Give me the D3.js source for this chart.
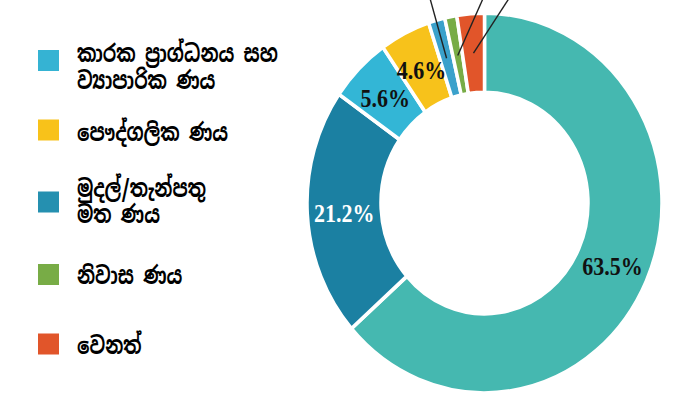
<!DOCTYPE html>
<html>
<head>
<meta charset="utf-8">
<script src="https://cdn.jsdelivr.net/npm/d3@7"></script>
<style>
  html, body { margin: 0; padding: 0; background: #fff; }
  svg { display: block; }
</style>
</head>
<body>
<svg id="chart" width="700" height="400"></svg>
<script>
// ---- data ----
const values      = [63.5, 21.2, 5.6, 4.6, 1.5, 1.1, 2.5];
const sliceLabels = ["63.5%", "21.2%", "5.6%", "4.6%", "", "", ""];
const sliceColors = ["#45b8b0", "#1b80a2", "#33b6d6", "#f7c21b", "#3aa1cb", "#78ac46", "#e1552a"];
const labelColors = ["#111", "#fff", "#111", "#111", "#111", "#111", "#111"];
const leaderSlices = [4, 5, 6];

const legendLabels = [
  ["කාරක ප්‍රාග්ධනය සහ", "ව්‍යාපාරික ණය"],
  ["පෞද්ගලික ණය"],
  ["මුදල්/තැන්පතු", "මත ණය"],
  ["නිවාස ණය"],
  ["වෙනත්"]
];
const legendColors = ["#35b3d3", "#f8c21a", "#2590b0", "#78ac46", "#e1552a"];

// ---- layout ----
const cx = 484.5, cy = 203, sy = 1.07;
const rOuter = 177.5, rInner = 103.5;
const leaderEnds = [[-56, -210], [1, -210], [28, -210]];
const legendSquareY = [60.5, 130, 202, 274.5, 344];
const legendTextY = [[53, 80], [132], [188, 214], [275], [345]];
const legendTargetWidth = 201; // width of first legend line in the reference

const svg = d3.select("#chart");

const pie = d3.pie().sort(null).value(d => d);
const arcs = pie(values);
const arc = d3.arc().innerRadius(rInner).outerRadius(rOuter);

const g = svg.append("g").attr("transform", `translate(${cx},${cy})`);
const ring = g.append("g").attr("transform", `scale(1,${sy})`);

ring.selectAll("path")
  .data(arcs)
  .join("path")
  .attr("d", arc)
  .attr("fill", (d, i) => sliceColors[i])
  .attr("stroke", "#fff")
  .attr("stroke-width", 3.5)
  .attr("stroke-linejoin", "miter");

// leader lines
g.selectAll("line.leader")
  .data(leaderSlices)
  .join("line")
  .attr("class", "leader")
  .attr("x1", (s) => arc.centroid(arcs[s])[0])
  .attr("y1", (s) => arc.centroid(arcs[s])[1] * sy)
  .attr("x2", (s, j) => leaderEnds[j][0])
  .attr("y2", (s, j) => leaderEnds[j][1])
  .attr("stroke", "#222")
  .attr("stroke-width", 1.4);

// value labels
g.selectAll("text.val")
  .data(arcs.filter((d, i) => sliceLabels[i]))
  .join("text")
  .attr("class", "val")
  .attr("transform", d => {
    const c = arc.centroid(d);
    return `translate(${c[0]},${c[1] * sy + 2}) scale(1,1.12)`;
  })
  .attr("text-anchor", "middle")
  .attr("dominant-baseline", "central")
  .attr("font-family", "'Liberation Serif', 'Times New Roman', serif")
  .attr("font-weight", "bold")
  .attr("font-size", 22)
  .attr("fill", d => labelColors[d.index])
  .text(d => sliceLabels[d.index]);

// legend
const lg = svg.append("g");
lg.selectAll("rect")
  .data(legendLabels)
  .join("rect")
  .attr("x", 38).attr("y", (d, i) => legendSquareY[i] - 10.5)
  .attr("width", 21).attr("height", 21)
  .attr("fill", (d, i) => legendColors[i]);

const texts = [];
legendLabels.forEach((lines, i) => {
  lines.forEach((ln, k) => {
    const t = lg.append("text")
      .attr("font-family", "'Noto Sans Sinhala', 'Iskoola Pota', 'Noto Sans', sans-serif")
      .attr("font-size", 22)
      .attr("font-weight", "bold")
      .attr("fill", "#000")
      .attr("dominant-baseline", "central")
      .text(ln);
    texts.push({ t, x: 77, y: legendTextY[i][k] });
  });
});
const w0 = texts[0].t.node().getComputedTextLength() || legendTargetWidth;
const sx = legendTargetWidth / w0;
texts.forEach(({ t, x, y }) => {
  t.attr("transform", `translate(${x},${y}) scale(${sx},1.08)`);
});
</script>
</body>
</html>
